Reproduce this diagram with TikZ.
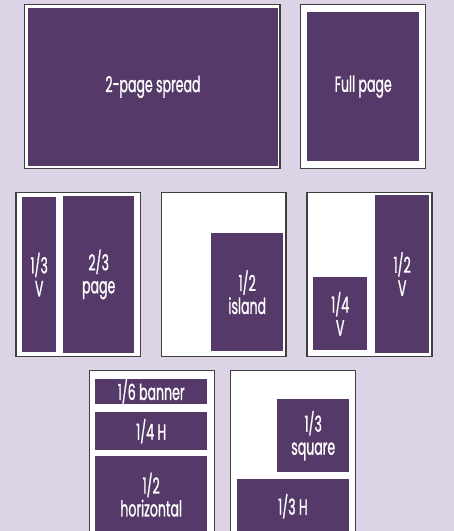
\documentclass[tikz,border=0pt]{standalone}
\usepackage{fontspec}
\usepackage{xcolor}
\newfontfamily\adfont[FakeStretch=0.57, FakeBold=0.9]{Poppins}
\definecolor{adpurple}{RGB}{85,58,105}
\definecolor{bglilac}{RGB}{220,212,230}

\begin{document}
\begin{tikzpicture}[
    x=1pt, y=-1pt,
    sz/.style 2 args={minimum width=#1pt, minimum height=#2pt},
    page/.style={rectangle, draw=black!75, line width=1.1pt, fill=white, anchor=north west, inner sep=0pt, outer sep=0pt},
    ad/.style={rectangle, fill=adpurple, text=white, anchor=north west, inner sep=0pt, align=center, font=\adfont\fontsize{22}{23}\selectfont}
]

% Background
\fill[bglilac] (0,0) rectangle (454,531);
\clip (0,0) rectangle (454,531);

% Pages
\node[page, sz={255.5}{164}] (spreadpg) at (24.5,4.5) {};
\node[page, sz={125}{164}] (fullpg) at (300.5,4.5) {};
\node[page, sz={124.5}{164}] (thirdpg) at (16,192.5) {};
\node[page, sz={124.5}{164}] (islandpg) at (161.5,192.5) {};
\node[page, sz={125}{164}] (halfvpg) at (307,192.5) {};
\node[page, sz={125}{164}] (bannerpg) at (89.5,370.5) {};
\node[page, sz={125}{164}] (squarepg) at (230.5,370.5) {};

% Ads
\node[ad, sz={249.5}{158.5}] (spread) at (28,7.5) {2-page spread};
\node[ad, sz={112}{149}] (full) at (307,12) {Full page};

\node[ad, sz={34}{155.5}] (thirdv) at (22,196.5) {1/3\\V};
\node[ad, sz={71}{157.5}] (twothird) at (63,195.5) {2/3\\page};
\node[ad, sz={72}{118}] (island) at (211,233) {1/2\\island};
\node[ad, sz={54}{73}] (quarterv) at (313,277) {1/4\\V};
\node[ad, sz={54}{158.5}] (halfv) at (375,194.5) {1/2\\V};

\node[ad, sz={112}{24}] (banner) at (95,379) {1/6 banner};
\node[ad, sz={112}{38}] (quarterh) at (95,412) {1/4 H};
\node[ad, sz={112}{77}] (halfh) at (95,456) {1/2\\horizontal};
\node[ad, sz={72}{73}] (square) at (277,399) {1/3\\square};
\node[ad, sz={112.5}{55}] (thirdh) at (236.5,478.5) {1/3 H};

\end{tikzpicture}
\end{document}
